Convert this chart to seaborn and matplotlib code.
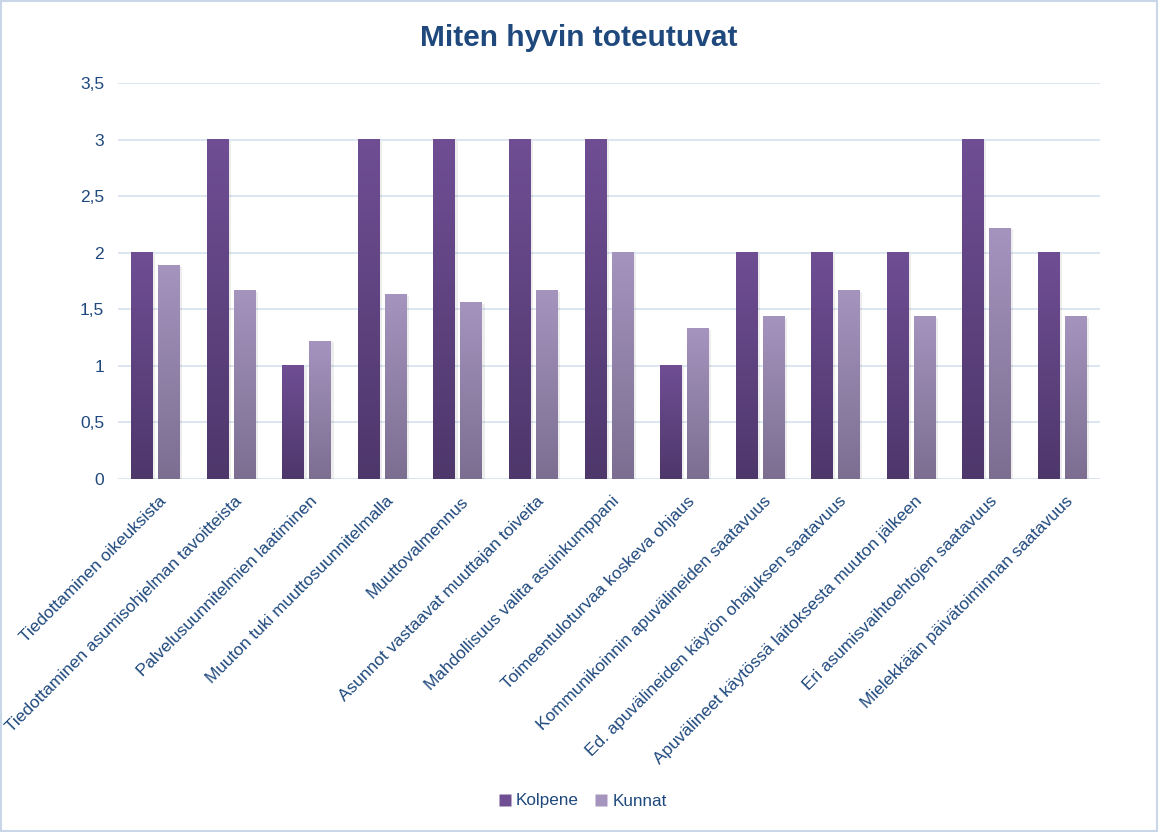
import numpy as np
import pandas as pd
import matplotlib
matplotlib.use("Agg")
import matplotlib.pyplot as plt
import matplotlib.transforms as mtransforms
import seaborn as sns
from matplotlib.colors import LinearSegmentedColormap
from matplotlib.lines import Line2D
from matplotlib.patches import Rectangle

categories = [
    "Tiedottaminen oikeuksista",
    "Tiedottaminen asumisohjelman tavoitteista",
    "Palvelusuunnitelmien laatiminen",
    "Muuton tuki muuttosuunnitelmalla",
    "Muuttovalmennus",
    "Asunnot vastaavat muuttajan toiveita",
    "Mahdollisuus valita asuinkumppani",
    "Toimeentuloturvaa koskeva ohjaus",
    "Kommunikoinnin apuvälineiden saatavuus",
    "Ed. apuvälineiden käytön ohajuksen saatavuus",
    "Apuvälineet käytössä laitoksesta muuton jälkeen",
    "Eri asumisvaihtoehtojen saatavuus",
    "Mielekkään päivätoiminnan saatavuus",
]
kolpene = [2, 3, 1, 3, 3, 3, 3, 1, 2, 2, 2, 3, 2]
kunnat = [1.89, 1.67, 1.22, 1.63, 1.56, 1.67, 2.0, 1.33, 1.44, 1.67, 1.44, 2.22, 1.44]
series_names = ["Kolpene", "Kunnat"]
yticks = [0, 0.5, 1, 1.5, 2, 2.5, 3, 3.5]
ytick_labels = ["0", "0,5", "1", "1,5", "2", "2,5", "3", "3,5"]

df = pd.DataFrame({
    "kategoria": categories * 2,
    "arvo": kolpene + kunnat,
    "sarja": [series_names[0]] * len(categories) + [series_names[1]] * len(categories),
})

sns.set_theme(style="white")
plt.rcParams["font.family"] = ["Liberation Sans", "DejaVu Sans"]

text_color = "#1F497D"
grid_color = "#D6E1EF"
top_colors = {"Kolpene": "#6F4E94", "Kunnat": "#A594BE"}
bot_colors = {"Kolpene": "#4E376B", "Kunnat": "#7C6E91"}

fig = plt.figure(figsize=(11.58, 8.32), dpi=100)
ax = fig.add_axes([118 / 1158, 1 - 479 / 832, (1100 - 118) / 1158, (479 - 83.3) / 832])

sns.barplot(data=df, x="kategoria", y="arvo", hue="sarja", order=categories,
            hue_order=series_names,
            palette=[top_colors[s] for s in series_names],
            width=0.715, gap=0.19, ax=ax, legend=False, saturation=1, zorder=3)

xlim = (-0.5, len(categories) - 0.5)

# gradient fill over each bar
n = len(categories)
for i, p in enumerate(ax.patches[: 2 * n]):
    s = series_names[i // n]
    x, w, h = p.get_x(), p.get_width(), p.get_height()
    cmap = LinearSegmentedColormap.from_list(s, [bot_colors[s], top_colors[s]])
    grad = np.linspace(0, 1, 256).reshape(-1, 1)
    ax.add_patch(Rectangle((x + 0.03, 0), w, h - 0.012, facecolor="#000000",
                           alpha=0.07, edgecolor="none", zorder=2.5))
    ax.imshow(grad, extent=[x, x + w, 0, h], origin="lower", aspect="auto",
              cmap=cmap, zorder=4, interpolation="bilinear")
    p.set_edgecolor("none")

ax.set_xlim(*xlim)
ax.set_ylim(0, 3.5)

ax.set_yticks(yticks)
ax.set_yticklabels(ytick_labels)
ax.yaxis.grid(True, color=grid_color, linewidth=1.2, zorder=0)
ax.set_axisbelow(True)
for sp in ax.spines.values():
    sp.set_visible(False)
ax.tick_params(axis="y", length=0, pad=10, labelsize=12.5, labelcolor=text_color)
ax.tick_params(axis="x", length=0, pad=10.5, labelsize=12.4, labelcolor=text_color)
ax.set_xticks(range(n))
ax.set_xticklabels(categories, rotation=45, ha="right", rotation_mode="anchor")
offset = mtransforms.ScaledTranslation(3 / 100, 0, fig.dpi_scale_trans)
for lab in ax.get_xticklabels():
    lab.set_transform(lab.get_transform() + offset)
ax.set_xlabel("")
ax.set_ylabel("")

fig.text(0.5, 1 - 38 / 832, "Miten hyvin toteutuvat", ha="center", va="center",
         fontsize=21.5, fontweight="bold", color=text_color)

handles = [Line2D([], [], marker="s", linestyle="none", markersize=8,
                  markerfacecolor=top_colors[s], markeredgecolor="none") for s in series_names]
fig.legend(handles, series_names, loc="center", bbox_to_anchor=(0.503, 1 - 801 / 832),
           ncol=2, frameon=False, fontsize=12.3, labelcolor=text_color,
           handletextpad=0.25, columnspacing=0.9, handlelength=0.8)

border = Rectangle((0.001, 0.001), 0.998, 0.998, transform=fig.transFigure,
                   fill=False, edgecolor="#C9D6E8", linewidth=1.5)
fig.add_artist(border)

fig.savefig("out.png", dpi=100)
